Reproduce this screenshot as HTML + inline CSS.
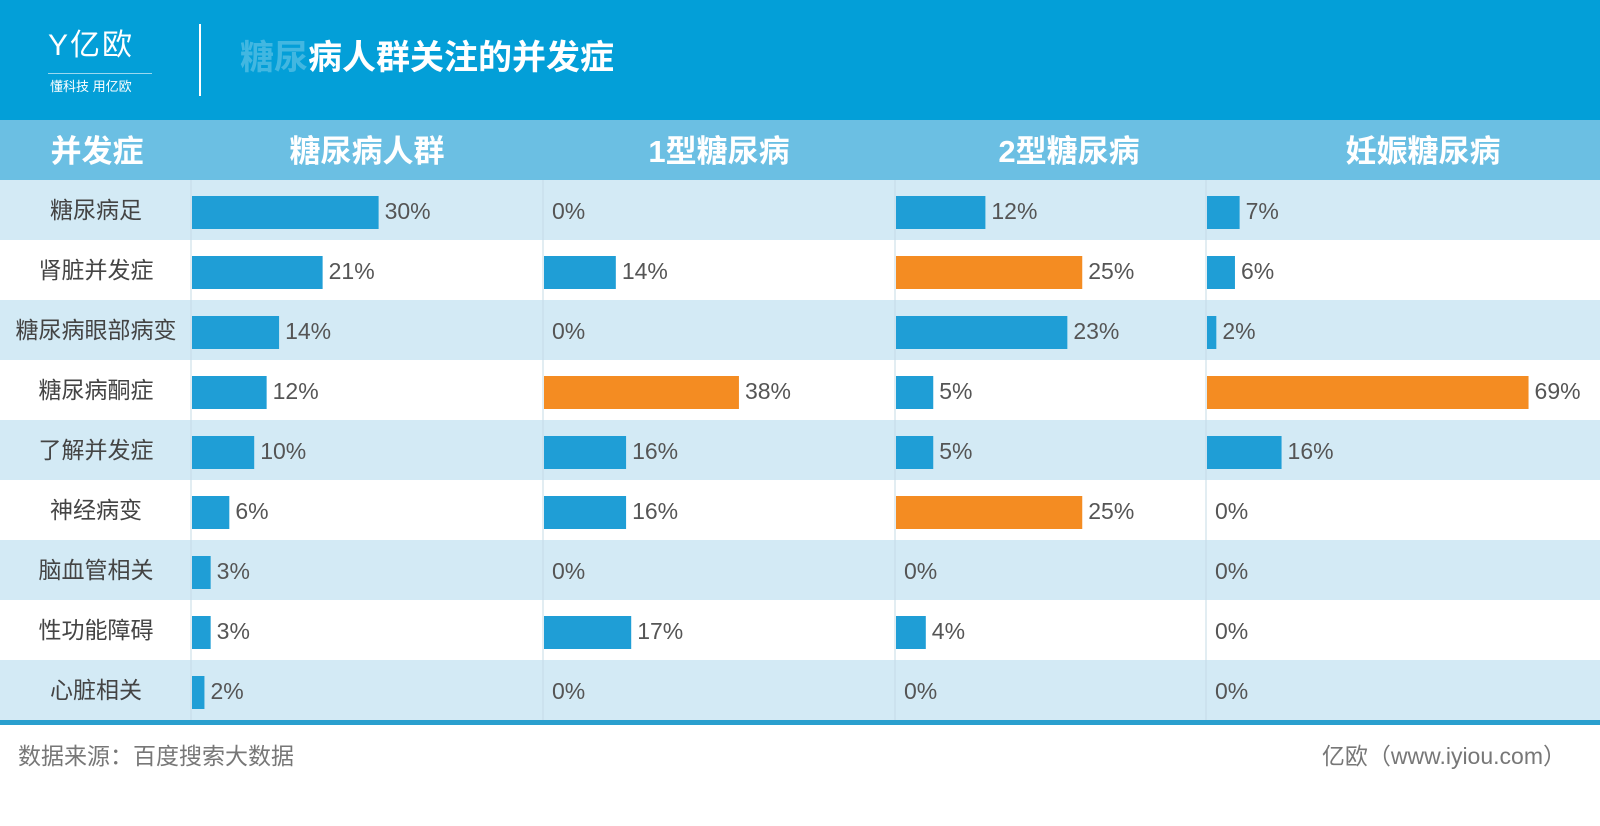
<!DOCTYPE html>
<html><head><meta charset="utf-8">
<style>
body{margin:0;width:1600px;height:826px;background:#fff;overflow:hidden;font-family:"Liberation Sans","Noto Sans CJK SC",sans-serif;position:relative}
.abs{position:absolute}
</style></head><body>
<div class="abs" style="left:0;top:0;width:1600px;height:120px;background:#039fd8"></div>
<div class="abs" style="left:48px;top:26px;width:110px;height:74px;color:#fff">
  <div style="position:absolute;left:0;top:0;font-size:30px;line-height:40px;letter-spacing:2px">Y亿欧</div>
  <div style="position:absolute;left:0;top:47px;width:104px;border-top:1px solid rgba(255,255,255,.6)"></div>
  <div style="position:absolute;left:2px;top:52px;font-size:13px;line-height:18px">懂科技 用亿欧</div>
</div>
<div class="abs" style="left:199px;top:24px;width:2px;height:72px;background:#fff"></div>
<div class="abs" style="left:240px;top:36px;font-size:34px;line-height:44px;font-weight:bold;color:#fff"><span style="opacity:.25">糖尿</span>病人群关注的并发症</div>
<div class="abs" style="left:0;top:120px;width:1600px;height:60px;background:#6bbfe3"></div>
<svg id="chart" class="abs" style="left:0;top:0" width="1600" height="826"></svg>
<div class="abs" style="left:18px;top:740px;font-size:23px;line-height:32px;color:#777">数据来源：百度搜索大数据</div>
<div class="abs" style="right:34px;top:740px;font-size:23px;line-height:32px;color:#777">亿欧（www.iyiou.com）</div>
<script>
const categories=["糖尿病足","肾脏并发症","糖尿病眼部病变","糖尿病酮症","了解并发症","神经病变","脑血管相关","性功能障碍","心脏相关"];
const groups=["糖尿病人群","1型糖尿病","2型糖尿病","妊娠糖尿病"];
const allPatients=[30,21,14,12,10,6,3,3,2];
const type1=[0,14,0,38,16,16,0,17,0];
const type2=[12,25,23,5,5,25,0,4,0];
const gestational=[7,6,2,69,16,0,0,0,0];
const highlight=[[],[3],[1,5],[3]];
const series=[allPatients,type1,type2,gestational];
const colX=[191,543,895,1206,1600];
const pxPer=[6.22,5.13,7.45,4.66];
const svg=document.getElementById('chart');
const NS='http://www.w3.org/2000/svg';
function mk(t,a,txt){const e=document.createElementNS(NS,t);for(const k in a)e.setAttribute(k,a[k]);if(txt!==undefined)e.textContent=txt;svg.appendChild(e);return e;}
const top0=180,rh=60;
function yRow(i){return top0+i*rh;}
function xVal(g,v){return colX[g]+1+v*pxPer[g];}
categories.forEach((c,i)=>{
  const bg=mk('rect',{x:0,y:yRow(i),width:1600,height:rh,fill:i%2===0?'#d3eaf5':'#ffffff'});
  
  
  const t=mk('text',{x:96,y:yRow(i)+38,'text-anchor':'middle','font-size':23,fill:'#444'},c);
  
  
});
colX.slice(0,4).forEach(x=>{
  const l=mk('line',{x1:x,y1:180,x2:x,y2:720,stroke:'#c5dbe6','stroke-width':1});
  
  
});
const hx=[97,367,719,1069,1423];
const hl=["并发症"].concat(groups);
hl.forEach((h,i)=>{
  const t=mk('text',{x:hx[i],y:162,'text-anchor':'middle','font-size':31,'font-weight':'bold',fill:'#fff'},h);
  
  
});
series.forEach((vals,g)=>{
  vals.forEach((v,i)=>{
    const x0=colX[g]+1,x1=xVal(g,v);
    if(v>0){
      const r=mk('rect',{x:x0,y:yRow(i)+16,width:x1-x0,height:33,fill:highlight[g].includes(i)?'#f48c22':'#1f9ed6'});
      
      
    }
    const t=mk('text',{x:(v>0?x1+6:x0+8),y:yRow(i)+39,'font-size':23,fill:'#555'},v+'%');
    
    
  });
});
const bl=mk('rect',{x:0,y:720,width:1600,height:5,fill:'#2a9fce'});


</script>
</body></html>
